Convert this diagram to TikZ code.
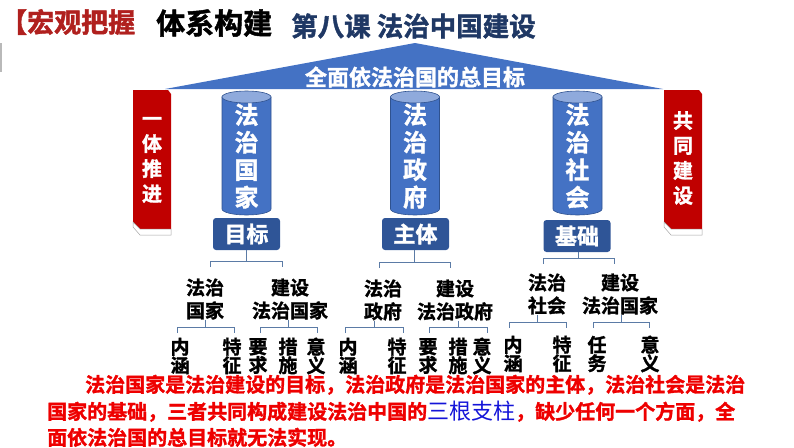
\documentclass[tikz,border=0pt]{standalone}
\usepackage{fontspec}
\setmainfont{Noto Sans CJK SC}[BoldFont={Noto Sans CJK SC Bold}, BoldFeatures={FakeBold=1.5}]
\usetikzlibrary{positioning}
\definecolor{roofblue}{HTML}{4472C4}
\definecolor{boxblue}{HTML}{2F5597}
\definecolor{cyltop}{HTML}{8FAADC}
\definecolor{cylline}{HTML}{2F528F}
\definecolor{pillarred}{HTML}{C00000}
\definecolor{navy}{HTML}{1F3864}
\definecolor{brkline}{HTML}{5B7BA6}
\definecolor{sumred}{HTML}{EE0000}
\definecolor{sumblue}{HTML}{1414D8}
\definecolor{titlered}{HTML}{B0201E}

\begin{document}
\begin{tikzpicture}[x=1pt, y=-1pt,
        vtext/.style={text=white, font=\bfseries\fontsize{24}{27.5}\selectfont,
                      align=center, inner sep=0pt},
        ptext/.style={text=white, font=\bfseries\fontsize{20}{25}\selectfont,
                      align=center, inner sep=0pt},
        lbl/.style={fill=boxblue, text=white, rounded corners=3pt,
                    minimum width=67pt, minimum height=32pt, inner sep=0pt,
                    font=\bfseries\fontsize{22}{22}\selectfont},
        item/.style={font=\bfseries\fontsize{19}{23}\selectfont, align=center, inner sep=0pt},
        leaf/.style={font=\bfseries\fontsize{19}{18.5}\selectfont, align=center, inner sep=0pt},
        brk/.style={draw=brkline, line width=0.9pt},
        sum/.style={anchor=base west, inner sep=0pt, text=sumred,
                    font=\bfseries\fontsize{20}{20}\selectfont}
    ]
        \useasboundingbox (0,0) rectangle (794,447);

        % title line
        \node[anchor=west, inner sep=0pt, text=titlered, font=\bfseries\fontsize{27}{27}\selectfont]
            (part) at (0,22) {【宏观把握};
        \node[anchor=west, inner sep=0pt, font=\bfseries\fontsize{29}{29}\selectfont]
            (sys) at (156,23) {体系构建};
        \node[anchor=west, inner sep=0pt, text=navy, font=\bfseries\fontsize{26.5}{26.5}\selectfont]
            (lesson) at (291,26) {第八课 法治中国建设};
        \fill[gray!55] (0,43) rectangle (2,72);

        % roof
        \fill[roofblue] (165,89) -- (415,43) -- (663,89) -- cycle;
        \node[text=white, inner sep=0pt, font=\bfseries\fontsize{22}{22}\selectfont]
            (goal) at (415,77) {全面依法治国的总目标};

        % side pillars
        \foreach \x in {133, 664} {
            \fill[pillarred] (\x,90) -- (\x+35,90) -- (\x+38,94) -- (\x+38,229)
                -- (\x+7,229) -- (\x,222) -- cycle;
            \filldraw[fill=white, draw=gray!70, line width=0.5pt] (\x,222) -- (\x+7,229)
                -- (\x+38,229) -- (\x+38,235) -- (\x+7,235) -- (\x,227) -- cycle;
        }
        \node[ptext] (lp) at (152,160) {一\\体\\推\\进};
        \node[ptext] (rp) at (683,158) {共\\同\\建\\设};

        % three pillars
        \foreach \x in {246.5, 415, 577.5} {
            \filldraw[fill=roofblue, draw=cylline, line width=0.6pt]
                (\x-24.5,97) -- (\x-24.5,209)
                arc[start angle=180, end angle=0, x radius=24.5, y radius=6]
                -- (\x+24.5,97) -- cycle;
            \filldraw[fill=cyltop, draw=cylline, line width=0.6pt]
                (\x,97) ellipse[x radius=24.5, y radius=6];
        }
        \node[vtext] (cg) at (246.5,156) {法\\治\\国\\家};
        \node[vtext] (cz) at (415,156) {法\\治\\政\\府};
        \node[vtext] (cs) at (577.5,156) {法\\治\\社\\会};

        \node[lbl] (mb) at (246.5,234) {目标};
        \node[lbl] (zt) at (415.5,234) {主体};
        \node[lbl] (jc) at (577,236) {基础};

        % second level
        \node[item] (g1) at (205,299) {法治\\国家};
        \node[item] (g2) at (290,299) {建设\\法治国家};
        \node[item] (g3) at (383,300) {法治\\政府};
        \node[item] (g4) at (455,300) {建设\\法治政府};
        \node[item] (g5) at (547,294) {法治\\社会};
        \node[item] (g6) at (620,294) {建设\\法治国家};

        % brackets
        \foreach \n/\l/\r/\y in {mb/210/282/261, zt/379/450/262, jc/543/614/258,
                g1/177/234/327, g2/260/317/327, g3/345/403/327,
                g4/429/487/327, g5/509/566/322, g6/593/649/322} {
            \pgfmathsetmacro\m{(\l+\r)/2}
            \draw[brk] (\m,\y |- \n.south) -- (\m,\y);
            \draw[brk] (\l,\y+6) -- (\l,\y) -- (\r,\y) -- (\r,\y+6);
        }

        % third level
        \foreach \x/\y/\w [count=\i] in {180/356/内\\涵, 232/356/特\\征, 258/356/要\\求,
                288/356/措\\施, 316/356/意\\义, 348/356/内\\涵, 397/356/特\\征,
                428/356/要\\求, 458/356/措\\施, 482/356/意\\义, 513/354/内\\涵,
                562/354/特\\征, 597/354/任\\务, 650/354/意\\义}
            \node[leaf] (l\i) at (\x,\y) {\w};

        % summary
        \node[sum] (s1) at (85,392)
            {法治国家是法治建设的目标，法治政府是法治国家的主体，法治社会是法治};
        \node[sum] (s2) at (47,419)
            {国家的基础，三者共同构成建设法治中国的{\mdseries\color{sumblue}\fontsize{22}{22}\selectfont 三根支柱}，缺少任何一个方面，全};
        \node[sum] (s3) at (47,445) {面依法治国的总目标就无法实现。};
    \end{tikzpicture}
\end{document}
